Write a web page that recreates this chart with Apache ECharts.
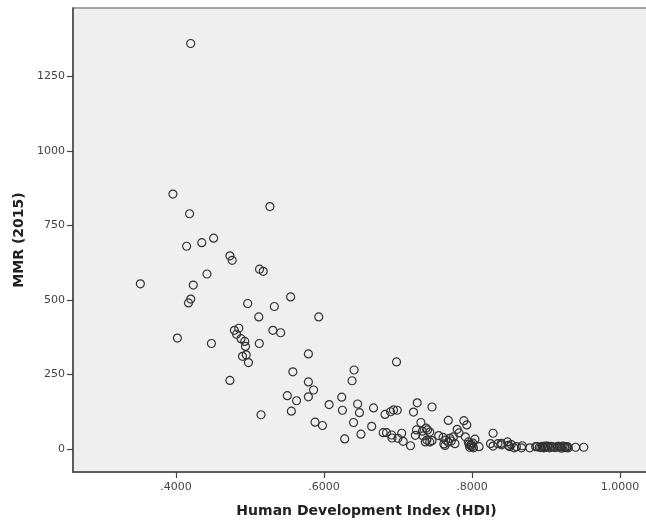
<!DOCTYPE html>
<html>
<head>
<meta charset="utf-8">
<script src="https://cdn.jsdelivr.net/npm/echarts@6/dist/echarts.min.js"></script>
<style>
html,body{margin:0;padding:0;background:#fff;overflow:hidden;}
#chart{width:646px;height:524px;}
</style>
</head>
<body>
<div id="chart"></div>
<script>
var hdi = [0.420,0.396,0.4185,0.527,0.4145,0.435,0.451,0.473,0.476,0.513,0.518,0.352,0.442,0.4235,0.420,0.417,0.497,0.512,0.402,0.485,
0.479,0.482,0.488,0.493,0.494,0.495,0.490,0.498,0.448,0.473,0.5127,0.515,0.533,0.555,0.531,0.5415,0.579,0.558,0.579,0.586,
0.5505,0.563,0.579,0.556,0.588,0.598,0.593,0.6407,0.638,0.607,0.624,0.625,0.6455,0.648,0.667,0.640,0.6645,0.650,0.628,0.698,
0.6825,0.690,0.694,0.699,0.680,0.6845,0.692,0.700,0.705,0.707,0.6915,0.717,0.721,0.726,0.731,0.725,0.7235,0.738,0.740,0.743,
0.739,0.743,0.737,0.746,0.755,0.761,0.7645,0.768,0.762,0.770,0.775,0.777,0.768,0.780,0.7825,0.789,0.793,0.791,0.795,0.796,
0.797,0.799,0.800,0.804,0.8095,0.8285,0.825,0.8285,0.835,0.8397,0.848,0.849,0.851,0.857,0.867,0.868,0.878,0.886,0.891,0.895,
0.898,0.902,0.905,0.9095,0.915,0.918,0.925,0.928,0.940,0.951,0.734,0.746,0.798,0.802,0.801,0.888,0.893,0.899,0.903,0.907,
0.912,0.920,0.923,0.926,0.929,0.930,0.921,0.916,0.897,0.900,0.860,0.840,0.853,0.7635,0.772,0.733];
var mmr = [1360,855,789,813,680,692,707,648,633,603,596,554,587,550,503,490,488,443,372,405,
398,385,370,361,344,316,311,290,354,230,354,115,478,510,398,390,319,259,225,198,
179,162,175,127,90,79,443,265,229,149,174,130,151,122,138,89,76,50,34,292,
116,125,131,130,55,55,37,36,53,26,47,11,124,155,89,64,46,70,64,57,
30,24,24,141,45,39,30,23,17,36,41,18,96,66,54,95,81,41,24,16,
6,16,8,33,8,53,18,10,18,19,24,12,8,4,4,11,4,8,6,9,
5,10,4,7,6,9,8,5,6,6,44,28,12,4,20,8,5,10,6,9,
5,7,10,5,8,4,3,9,4,7,8,14,15,12,27,60];
var xTickValues = [0.4,0.6,0.8,1.0];
var xTickLabels = ['.4000','.6000','.8000','1.0000'];
var yTickValues = [0,250,500,750,1000,1250];
var yTickLabels = ['0','250','500','750','1000','1250'];

var points = hdi.map(function(v,i){return [v, mmr[i]];});

var chart = echarts.init(document.getElementById('chart'), null, {renderer:'canvas'});
chart.setOption({
  animation:false,
  backgroundColor:'#ffffff',
  grid:{left:73, width:587, top:8, bottom:52, show:true, backgroundColor:'#efefef', borderColor:'#8a8a8a', borderWidth:1.5, containLabel:false, outerBoundsMode:'none'},
  xAxis:{
    type:'value', min:0.261, max:1.054,
    name:'Human Development Index (HDI)', nameLocation:'middle', nameGap:32,
    nameTextStyle:{fontFamily:'DejaVu Sans', fontWeight:'bold', fontSize:14, color:'#222'},
    axisLine:{show:true, onZero:false, lineStyle:{color:'#444', width:1.5}},
    axisTick:{show:true, customValues:xTickValues, length:6, lineStyle:{color:'#444', width:1.2}},
    axisLabel:{customValues:xTickValues, margin:10, fontFamily:'DejaVu Sans', fontSize:11, color:'#444',
      formatter:function(v){var i=xTickValues.findIndex(function(t){return Math.abs(t-v)<1e-6;});return i>=0?xTickLabels[i]:'';}},
    splitLine:{show:false}
  },
  yAxis:{
    type:'value', min:-77, max:1479,
    name:'MMR (2015)', nameLocation:'middle', nameGap:45, nameRotate:90,
    nameTextStyle:{fontFamily:'DejaVu Sans', fontWeight:'bold', fontSize:14, color:'#222'},
    axisLine:{show:true, onZero:false, lineStyle:{color:'#444', width:1.5}},
    axisTick:{show:true, customValues:yTickValues, length:6, lineStyle:{color:'#444', width:1.2}},
    axisLabel:{customValues:yTickValues, margin:8, fontFamily:'DejaVu Sans', fontSize:11, color:'#444',
      formatter:function(v){var i=yTickValues.findIndex(function(t){return Math.abs(t-v)<1e-6;});return i>=0?yTickLabels[i]:'';}},
    splitLine:{show:false}
  },
  series:[{
    type:'scatter',
    data:points,
    symbol:'circle',
    symbolSize:8,
    itemStyle:{color:'rgba(0,0,0,0)', borderColor:'#333', borderWidth:1.2, opacity:1}
  }]
});
</script>
</body>
</html>
